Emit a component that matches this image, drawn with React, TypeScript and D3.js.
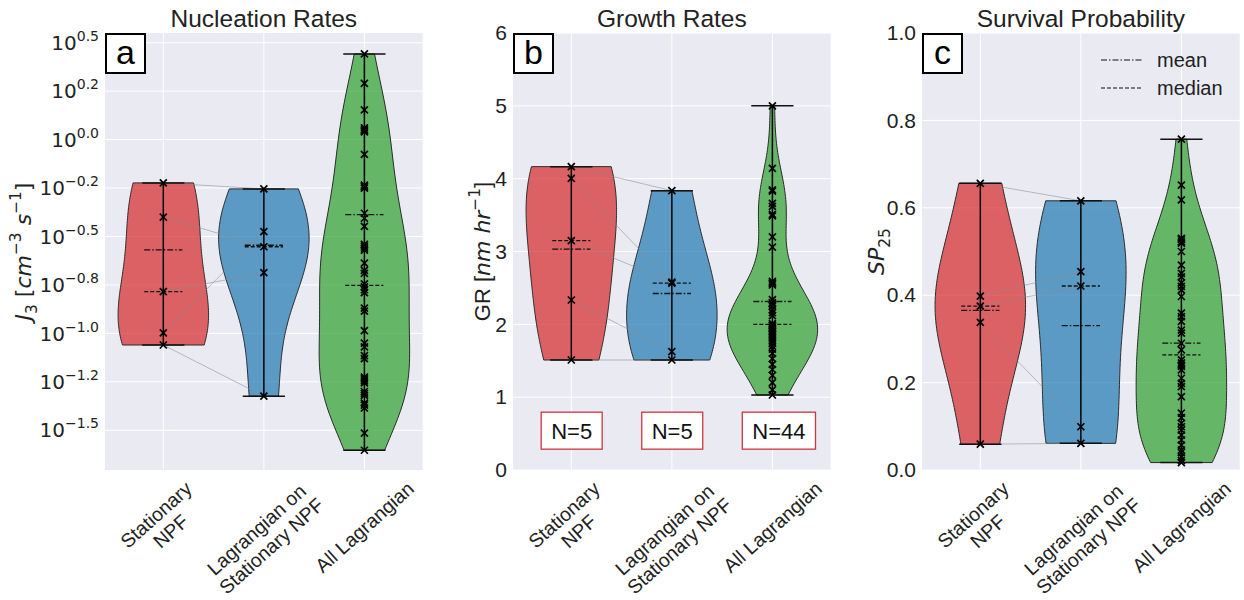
import React, { useEffect, useRef } from 'react'
import * as d3 from 'd3'

const categories = [['Stationary', 'NPF'], ['Lagrangian on', 'Stationary NPF'], ['All Lagrangian']]
const violinColors = ['#d62728', '#1f77b4', '#2ca02c']
const positions = [1, 2, 3]
const sampleSizes = ['N=5', 'N=5', 'N=44']

// log10 of J3 [cm^-3 s^-1]; first two arrays are paired (same event order)
const j3Stationary = [-0.2235, -0.4, -0.785, -0.997, -1.06]
const j3LagOnStationary = [-0.2545, -0.553, -0.687, -0.475, -1.324]
const j3AllLagrangian = [0.442, 0.29, 0.153, 0.06, 0.05, 0.045, 0.04, -0.076, -0.235, -0.243, -0.25, -0.38,
  -0.406, -0.448, -0.54, -0.55, -0.56, -0.57, -0.638, -0.675, -0.69, -0.745, -0.76, -0.775, -0.79, -0.87,
  -0.885, -0.986, -1.05, -1.07, -1.115, -1.13, -1.225, -1.235, -1.245, -1.255, -1.3, -1.31, -1.32, -1.36,
  -1.37, -1.385, -1.515, -1.603]

// GR [nm/hr]
const grStationary = [4.165, 4.005, 3.149, 2.334, 1.51]
const grLagOnStationary = [3.835, 2.565, 2.58, 1.625, 1.51]
const grAllLagrangian = [5.0, 4.14, 3.845, 3.83, 3.66, 3.62, 3.51, 3.49, 3.2, 3.06, 2.59, 2.57, 2.56, 2.54,
  2.34, 2.3, 2.28, 2.25, 2.2, 2.16, 2.12, 2.01, 1.99, 1.98, 1.96, 1.94, 1.92, 1.9, 1.88, 1.86, 1.83, 1.8,
  1.77, 1.74, 1.7, 1.66, 1.6, 1.53, 1.45, 1.38, 1.3, 1.2, 1.1, 1.03]

// SP25
const spStationary = [0.656, 0.398, 0.375, 0.338, 0.059]
const spLagOnStationary = [0.616, 0.454, 0.421, 0.099, 0.061]
const spAllLagrangian = [0.757, 0.652, 0.618, 0.53, 0.527, 0.522, 0.519, 0.5, 0.469, 0.45, 0.442, 0.428,
  0.42, 0.412, 0.397, 0.359, 0.351, 0.34, 0.32, 0.313, 0.29, 0.275, 0.252, 0.245, 0.24, 0.237, 0.229, 0.21,
  0.198, 0.191, 0.168, 0.13, 0.12, 0.107, 0.099, 0.0915, 0.08, 0.0686, 0.057, 0.0458, 0.04, 0.03, 0.022, 0.017]

const j3Ticks = [0.5, 0.25, 0, -0.25, -0.5, -0.75, -1, -1.25, -1.5]
const j3TickLabels = ['0.5', '0.2', '0.0', '−0.2', '−0.5', '−0.8', '−1.0', '−1.2', '−1.5']
const grTicks = [0, 1, 2, 3, 4, 5, 6]
const spTicks = [0, 0.2, 0.4, 0.6, 0.8, 1.0]

const SANS = "'Liberation Sans', Arial, sans-serif"
const MATH = "'DejaVu Sans', sans-serif"
const TXT = '#222'
const TOP = 33
const BOTTOM = 470
const PW = 317.7
const HALF = 0.45

type Part = { t: string, s?: 'i' | 'sub' | 'sup', f?: string }

// text with italic / sub / superscript pieces
function rich(text: any, parts: Part[], size: number, family: string) {
  let cur = 0
  parts.forEach(p => {
    const small = p.s === 'sub' || p.s === 'sup'
    const target = p.s === 'sub' ? size * 0.28 : p.s === 'sup' ? -size * 0.45 : 0
    text.append('tspan')
      .attr('dy', target - cur)
      .attr('font-size', small ? size * 0.7 : size)
      .attr('font-family', p.f || family)
      .attr('font-style', p.s === 'i' ? 'italic' : 'normal')
      .text(p.t)
    cur = target
  })
}

function kde(vals: number[]) {
  const n = vals.length
  const bw = (d3.deviation(vals) as number) * Math.pow(n, -0.2)
  const lo = d3.min(vals) as number, hi = d3.max(vals) as number
  return d3.range(100).map(k => {
    const p = lo + (hi - lo) * k / 99
    return [p, d3.sum(vals, v => Math.exp(-0.5 * ((p - v) / bw) ** 2))] as [number, number]
  })
}

const toLin = (v: number[]) => v.map(d => Math.pow(10, d))

const panels = [
  {
    left: 105, letter: 'a', title: 'Nucleation Rates',
    groups: [j3Stationary, j3LagOnStationary, j3AllLagrangian],
    domain: [-1.705, 0.55], ticks: j3Ticks,
    tick: (t: any, i: number) => rich(t, [{ t: '10' }, { t: j3TickLabels[i], s: 'sup' }], 20, MATH),
    mean: (v: number[]) => Math.log10(d3.mean(toLin(v)) as number),
    median: (v: number[]) => Math.log10(d3.median(toLin(v)) as number),
    labelX: 31,
    ylabel: [{ t: 'J', s: 'i' }, { t: '3', s: 'sub' }, { t: ' [' }, { t: 'cm', s: 'i' }, { t: '−3', s: 'sup' },
      { t: ' ' }, { t: 's', s: 'i' }, { t: '−1', s: 'sup' }, { t: ']' }] as Part[],
  },
  {
    left: 513, letter: 'b', title: 'Growth Rates',
    groups: [grStationary, grLagOnStationary, grAllLagrangian],
    domain: [0, 6], ticks: grTicks,
    tick: (t: any, i: number) => t.text(String(grTicks[i])),
    mean: (v: number[]) => d3.mean(v) as number,
    median: (v: number[]) => d3.median(v) as number,
    labelX: 490,
    ylabel: [{ t: 'GR [', f: SANS }, { t: 'nm hr', s: 'i' }, { t: '−1', s: 'sup' }, { t: ']', f: SANS }] as Part[],
  },
  {
    left: 922, letter: 'c', title: 'Survival Probability',
    groups: [spStationary, spLagOnStationary, spAllLagrangian],
    domain: [0, 1], ticks: spTicks,
    tick: (t: any, i: number) => t.text(spTicks[i].toFixed(1)),
    mean: (v: number[]) => d3.mean(v) as number,
    median: (v: number[]) => d3.median(v) as number,
    labelX: 884,
    ylabel: [{ t: 'SP', s: 'i' }, { t: '25', s: 'sub' }] as Part[],
  },
]

function drawPanel(svg: any, p: typeof panels[number]) {
  const x = d3.scaleLinear().domain([0.42, 3.58]).range([p.left, p.left + PW])
  const y = d3.scaleLinear().domain(p.domain).range([BOTTOM, TOP])
  const g = svg.append('g')

  g.append('rect').attr('x', p.left).attr('y', TOP).attr('width', PW).attr('height', BOTTOM - TOP).attr('fill', '#eaeaf2')
  p.ticks.forEach(t => g.append('line').attr('x1', p.left).attr('x2', p.left + PW)
    .attr('y1', y(t)).attr('y2', y(t)).attr('stroke', '#fff').attr('stroke-width', 1))
  positions.forEach(pos => g.append('line').attr('x1', x(pos)).attr('x2', x(pos))
    .attr('y1', TOP).attr('y2', BOTTOM).attr('stroke', '#fff').attr('stroke-width', 1))

  // violins
  p.groups.forEach((vals, i) => {
    const dens = kde(vals)
    const maxD = d3.max(dens, d => d[1]) as number
    const area = d3.area<[number, number]>()
      .y(d => y(d[0]))
      .x0(d => x(positions[i] - HALF * d[1] / maxD))
      .x1(d => x(positions[i] + HALF * d[1] / maxD))
    g.append('path').attr('d', area(dens)).attr('fill', violinColors[i]).attr('fill-opacity', 0.7)
      .attr('stroke', '#2b2b2b').attr('stroke-width', 1)
  })

  // paired lines between the first two groups
  p.groups[0].forEach((v, k) => g.append('line')
    .attr('x1', x(1)).attr('y1', y(v)).attr('x2', x(2)).attr('y2', y(p.groups[1][k]))
    .attr('stroke', '#8a8a8a').attr('stroke-opacity', 0.6).attr('stroke-width', 0.9))

  p.groups.forEach((vals, i) => {
    const pos = positions[i]
    const lo = d3.min(vals) as number, hi = d3.max(vals) as number
    g.append('line').attr('x1', x(pos)).attr('x2', x(pos)).attr('y1', y(lo)).attr('y2', y(hi))
      .attr('stroke', '#000').attr('stroke-width', 1.5)
    ;[lo, hi].forEach(v => g.append('line').attr('x1', x(pos - 0.21)).attr('x2', x(pos + 0.21))
      .attr('y1', y(v)).attr('y2', y(v)).attr('stroke', '#111').attr('stroke-width', 1.5))
    g.append('line').attr('x1', x(pos - 0.19)).attr('x2', x(pos + 0.19))
      .attr('y1', y(p.mean(vals))).attr('y2', y(p.mean(vals)))
      .attr('stroke', '#111').attr('stroke-width', 1.3).attr('stroke-dasharray', '6,2,1.5,2')
    g.append('line').attr('x1', x(pos - 0.19)).attr('x2', x(pos + 0.19))
      .attr('y1', y(p.median(vals))).attr('y2', y(p.median(vals)))
      .attr('stroke', '#111').attr('stroke-width', 1.3).attr('stroke-dasharray', '4,2')
    vals.forEach(v => g.append('path').attr('d', 'M-3.5,-3.5L3.5,3.5M-3.5,3.5L3.5,-3.5')
      .attr('transform', `translate(${x(pos)},${y(v)})`).attr('stroke', '#000').attr('stroke-width', 1.7))
  })

  // y tick labels
  p.ticks.forEach((t, i) => {
    const txt = g.append('text').attr('x', p.left - 6).attr('y', y(t) + 7.2).attr('text-anchor', 'end')
      .attr('font-family', SANS).attr('font-size', 21).attr('fill', TXT)
    p.tick(txt, i)
  })

  // x tick labels, rotated, centred under the tick
  const th = 42 * Math.PI / 180
  categories.forEach((lines, i) => {
    const lg = g.append('g')
    const t = lg.append('text').attr('font-family', SANS).attr('font-size', 19.5).attr('fill', TXT)
      .attr('text-anchor', 'middle')
    lines.forEach((s, j) => t.append('tspan').attr('x', 0).attr('y', j * 22).text(s))
    const bb = (t.node() as SVGTextElement).getBBox()
    const cx = x(positions[i])
    const cy = BOTTOM + 7 + (bb.width * Math.sin(th) + bb.height * Math.cos(th)) / 2
    lg.attr('transform', `translate(${cx},${cy}) rotate(-42) translate(${-(bb.x + bb.width / 2)},${-(bb.y + bb.height / 2)})`)
  })

  g.append('text').attr('x', p.left + PW / 2).attr('y', 27).attr('text-anchor', 'middle')
    .attr('font-family', SANS).attr('font-size', 24.5).attr('fill', TXT).text(p.title)

  const yl = g.append('text').attr('transform', `translate(${p.labelX},${(TOP + BOTTOM) / 2}) rotate(-90)`)
    .attr('text-anchor', 'middle').attr('fill', TXT)
  rich(yl, p.ylabel, 22, MATH)

  g.append('rect').attr('x', p.left + 1).attr('y', TOP + 1).attr('width', 39).attr('height', 39)
    .attr('fill', '#fff').attr('stroke', '#000').attr('stroke-width', 2)
  g.append('text').attr('x', p.left + 20.5).attr('y', TOP + 31).attr('text-anchor', 'middle')
    .attr('font-family', SANS).attr('font-size', 34).attr('fill', '#000').text(p.letter)

  return { x, y, g }
}

export default function App() {
  const ref = useRef<SVGSVGElement>(null)
  useEffect(() => {
    document.body.style.margin = '0'
    const svg = d3.select(ref.current)
    svg.selectAll('*').remove()
    svg.append('rect').attr('width', 1244).attr('height', 600).attr('fill', '#fff')
    const drawn = panels.map(p => drawPanel(svg, p))

    // sample-size boxes in panel b
    const b = drawn[1]
    sampleSizes.forEach((s, i) => {
      const t = b.g.append('text').attr('x', b.x(positions[i] - 0.2)).attr('y', b.y(0.54) + 8)
        .attr('font-family', SANS).attr('font-size', 22).attr('fill', '#111').text(s)
      const bb = (t.node() as SVGTextElement).getBBox()
      b.g.insert('rect', () => t.node()).attr('x', bb.x - 10).attr('y', b.y(0.54) - 18.5)
        .attr('width', bb.width + 20).attr('height', 37).attr('fill', '#fff')
        .attr('stroke', '#d0343c').attr('stroke-width', 1.3)
    })

    // legend in panel c
    const leg = [{ name: 'mean', dash: '6,2,1.5,2', yy: 60 }, { name: 'median', dash: '4,2', yy: 88 }]
    leg.forEach(l => {
      svg.append('line').attr('x1', 1101).attr('x2', 1142).attr('y1', l.yy).attr('y2', l.yy)
        .attr('stroke', '#111').attr('stroke-width', 1.2).attr('stroke-dasharray', l.dash)
      svg.append('text').attr('x', 1157).attr('y', l.yy + 7).attr('font-family', SANS)
        .attr('font-size', 20).attr('fill', TXT).text(l.name)
    })
  }, [])

  return <svg ref={ref} width={1244} height={600} style={{ display: 'block' }} />
}
